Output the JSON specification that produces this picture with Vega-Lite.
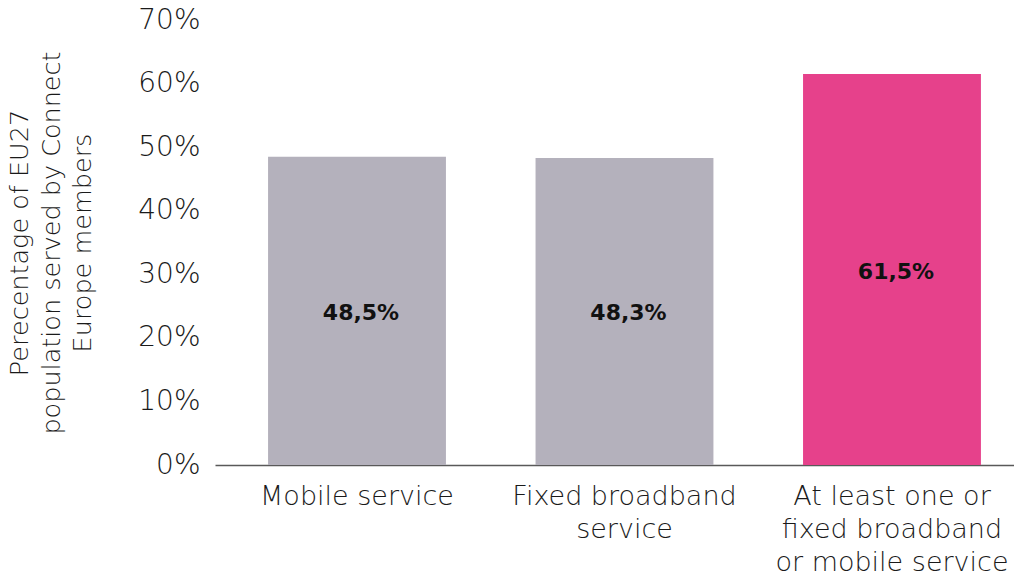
{
  "$schema": "https://vega.github.io/schema/vega-lite/v6.json",
  "autosize": "none",
  "padding": {"left": 215, "top": 20, "right": 0, "bottom": 112},
  "width": 799,
  "height": 445,
  "background": "white",
  "config": {
    "view": {"stroke": null},
    "font": "DejaVu Sans",
    "axis": {"grid": false, "labelColor": "#1a1a1a", "titleColor": "#1a1a1a", "labelFont": "DejaVu Sans", "titleFont": "DejaVu Sans", "labelFontWeight": 200, "titleFontWeight": 200}
  },
  "data": {
    "values": [
      {"category": "Mobile service", "value": 48.5, "label": "48,5%"},
      {"category": "Fixed broadband service", "value": 48.3, "label": "48,3%"},
      {"category": "At least one or fixed broadband or mobile service", "value": 61.5, "label": "61,5%"}
    ]
  },
  "encoding": {
    "x": {
      "field": "category",
      "type": "nominal",
      "sort": null,
      "scale": {"paddingInner": 0.335, "paddingOuter": 0.161, "align": 0.616},
      "axis": {
        "title": null,
        "labelAngle": 0,
        "labelFontSize": 27,
        "labelLineHeight": 33,
        "labelPadding": 18,
        "labelBaseline": "top",
        "ticks": false,
        "domainColor": "#595959",
        "domainWidth": 1.5,
        "labelLimit": 400,
        "labelExpr": "datum.value == 'Fixed broadband service' ? ['Fixed broadband', 'service'] : datum.value == 'At least one or fixed broadband or mobile service' ? ['At least one or', 'fixed broadband', 'or mobile service'] : datum.value"
      }
    }
  },
  "layer": [
    {
      "mark": {"type": "bar"},
      "encoding": {
        "y": {
          "field": "value",
          "type": "quantitative",
          "scale": {"domain": [0, 70], "nice": false},
          "axis": {
            "values": [0, 10, 20, 30, 40, 50, 60, 70],
            "labelExpr": "datum.value + '%'",
            "labelFontSize": 28,
            "labelPadding": 15,
            "ticks": false,
            "domain": false,
            "title": ["Perecentage of EU27", "population served by  Connect", "Europe members"],
            "titleFontSize": 25.5,
            "titleLineHeight": 31.5,
            "titlePadding": 42
          }
        },
        "color": {
          "field": "category",
          "type": "nominal",
          "scale": {
            "domain": ["Mobile service", "Fixed broadband service", "At least one or fixed broadband or mobile service"],
            "range": ["#b4b1bc", "#b4b1bc", "#e6418b"]
          },
          "legend": null
        }
      }
    },
    {
      "mark": {"type": "text", "fontSize": 22, "fontWeight": "bold", "color": "#111111", "baseline": "middle", "font": "DejaVu Sans", "dx": 4, "dy": 2},
      "encoding": {
        "y": {
          "field": "value",
          "type": "quantitative",
          "scale": {"domain": [0, 140], "nice": false},
          "axis": null
        },
        "text": {"field": "label", "type": "nominal"}
      }
    }
  ],
  "resolve": {"scale": {"y": "independent"}}
}
